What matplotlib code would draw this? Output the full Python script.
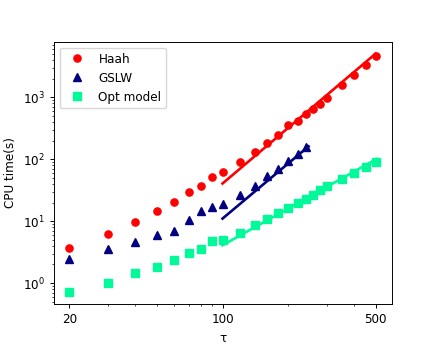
import matplotlib
matplotlib.use('Agg')
import matplotlib.pyplot as plt

# data (tau vs CPU time in seconds)
haah_tau = [20, 30, 40, 50, 60, 70, 80, 90, 100, 120, 140, 160, 180, 200,
            220, 240, 260, 280, 300, 350, 400, 450, 500]
haah_time = [3.7, 6.3, 9.7, 14.7, 20.6, 29.3, 37.4, 51.5, 61.5, 89, 129, 185, 242, 352,
             418, 540, 649, 781, 974, 1560, 2285, 3265, 4666]

gslw_tau = [20, 30, 40, 50, 60, 70, 80, 90, 100, 120, 140, 160, 180, 200, 220, 240]
gslw_time = [2.49, 3.61, 4.61, 6.06, 7.03, 10.4, 14.5, 16.8, 19.2, 26.9, 36.6, 54.4,
             69.6, 92.4, 121, 157]

opt_tau = [20, 30, 40, 50, 60, 70, 80, 90, 100, 120, 140, 160, 180, 200,
           220, 240, 260, 280, 300, 350, 400, 450, 500]
opt_time = [0.717, 1.01, 1.43, 1.79, 2.40, 3.11, 3.61, 4.73, 4.97, 6.36, 8.55, 10.7, 13.3,
            16.5, 19.3, 23.2, 26.9, 31.6, 36.6, 48.7, 60.1, 74, 90.3]

# fitted straight lines (end points on the log-log plot)
haah_fit_tau = [100, 500]
haah_fit_time = [40.5, 5060]
gslw_fit_tau = [100, 247]
gslw_fit_time = [11.0, 161]
opt_fit_tau = [100, 505]
opt_fit_time = [4.08, 101]

xticks = [20, 100, 500]
xticklabels = ['20', '100', '500']

s = 0.864  # size scale
plt.rcParams['font.size'] = 10 * s

fig = plt.figure(figsize=(4.36, 3.49), dpi=100)
ax = fig.add_axes([0.1239, 0.129, 0.7751, 0.7515])

ax.plot(haah_tau, haah_time, 'o', color='red', markersize=6 * s, label='Haah')
ax.plot(gslw_tau, gslw_time, '^', color='navy', markersize=6 * s, label='GSLW')
ax.plot(opt_tau, opt_time, 's', color='mediumspringgreen', markersize=6 * s, label='Opt model')

ax.plot(haah_fit_tau, haah_fit_time, '-', color='red', lw=2.2 * s)
ax.plot(gslw_fit_tau, gslw_fit_time, '-', color='navy', lw=2.2 * s)
ax.plot(opt_fit_tau, opt_fit_time, '-', color='mediumspringgreen', lw=2.2 * s)

ax.set_xscale('log')
ax.set_yscale('log')
ax.set_xticks(xticks)
ax.set_xticklabels(xticklabels)
ax.tick_params(which='major', length=3.5 * s, width=0.8 * s)
ax.tick_params(which='minor', length=2 * s, width=0.6 * s)
for sp in ax.spines.values():
    sp.set_linewidth(0.8 * s)

ax.set_xlabel('τ')
ax.set_ylabel('CPU time(s)')
ax.legend(loc='upper left')

fig.savefig('out.png', dpi=100)
